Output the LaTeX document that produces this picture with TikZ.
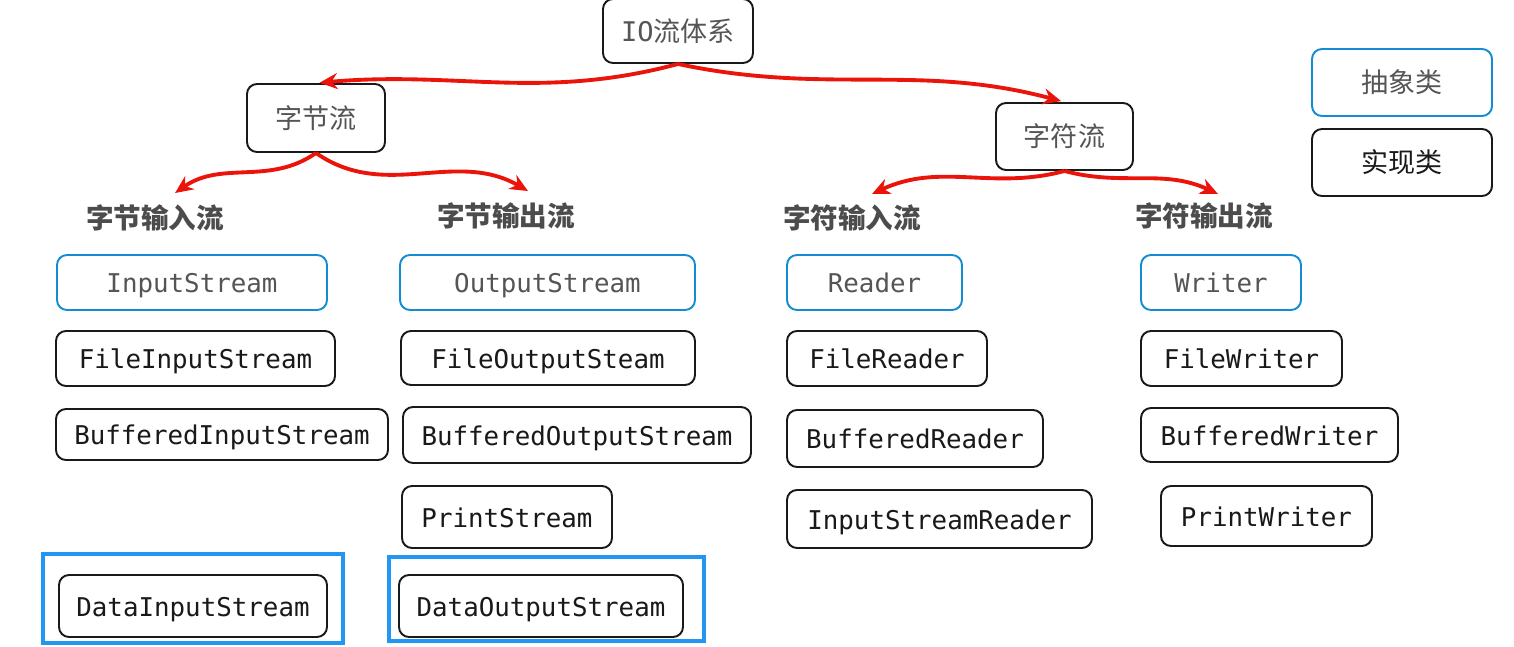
\documentclass[tikz,border=0pt]{standalone}
\usepackage{fontspec}
\setmonofont{DejaVu Sans Mono}
\newfontfamily\cjk{Noto Sans CJK SC}
\usetikzlibrary{arrows.meta}
\definecolor{absblue}{RGB}{18,140,210}
\definecolor{grpblue}{RGB}{33,150,243}
\definecolor{txtgray}{RGB}{85,85,85}
\definecolor{arrred}{RGB}{235,20,10}

\begin{document}
\begin{tikzpicture}[x=0.02cm,y=-0.02cm]
\tikzset{box/.style={draw=black!90, line width=1.1pt, rounded corners=0.2cm, fill=white, inner sep=0pt,
    text height=15pt, text depth=3.5pt, font=\fontsize{14.7}{17}\selectfont\ttfamily},
  sz/.style 2 args={minimum width=#1*0.02cm, minimum height=#2*0.02cm},
  absbox/.style={box, draw=absblue, text=txtgray},
  implbox/.style={box, text=black!90},
  cnbox/.style={box, text=txtgray, text height=, text depth=, font=\fontsize{15.4}{18}\selectfont\cjk},
  grp/.style={draw=grpblue, line width=2.2pt},
  kind/.style={text=black!70, inner sep=2pt, font=\fontsize{15.7}{18}\selectfont\cjk\bfseries},
  link/.style={draw=arrred, line width=2.2pt, -{Stealth[length=0.36cm,width=0.32cm]}}}
\useasboundingbox (0,0) rectangle (1514,646);

% top levels
\node[cnbox, sz={150}{64}] (io) at (678,31) {{\ttfamily IO}流体系};
\node[cnbox, sz={138}{68}] (byte) at (316,118) {字节流};
\node[cnbox, sz={137}{67}] (char) at (1064.5,136.5) {字符流};

% legend
\node[cnbox, draw=absblue, sz={180}{67}] (abs) at (1402,82.5) {抽象类};
\node[cnbox, text=black!90, sz={180}{67}] (impl) at (1402,162.5) {实现类};

% kinds
\node[kind] (bin) at (155,218) {字节输入流};
\node[kind] (bout) at (506,216) {字节输出流};
\node[kind] (cin) at (852,218) {字符输入流};
\node[kind] (cout) at (1204,216) {字符输出流};
\coordinate (binend) at (175,193);
\coordinate (boutend) at (528,191);
\coordinate (cinend) at (872,194);
\coordinate (coutend) at (1218,194);

% byte input
\node[absbox, sz={270}{55}] (is) at (192,282.5) {InputStream};
\node[implbox, sz={279}{55}] (fis) at (195.5,358.5) {FileInputStream};
\node[implbox, sz={332}{51}] (bis) at (222,434.5) {BufferedInputStream};
\node[implbox, sz={268}{62}] (dis) at (193,606) {DataInputStream};
\draw[grp] (43,554) rectangle (343,643);

% byte output
\node[absbox, sz={295}{55}] (os) at (547.5,282.5) {OutputStream};
\node[implbox, sz={294}{54}] (fos) at (548,358) {FileOutputSteam};
\node[implbox, sz={348}{56}] (bos) at (577,435) {BufferedOutputStream};
\node[implbox, sz={210}{62}] (ps) at (507,517) {PrintStream};
\node[implbox, sz={284}{62}] (dos) at (541,606) {DataOutputStream};
\draw[grp] (389,557) rectangle (704,641);

% char input
\node[absbox, sz={175}{55}] (rd) at (874.5,282.5) {Reader};
\node[implbox, sz={200}{55}] (frd) at (887,358.5) {FileReader};
\node[implbox, sz={256}{57}] (brd) at (915,438.5) {BufferedReader};
\node[implbox, sz={305}{58}] (isr) at (939.5,519) {InputStreamReader};

% char output
\node[absbox, sz={160}{55}] (wr) at (1221,282.5) {Writer};
\node[implbox, sz={201}{55}] (fwr) at (1241.5,358.5) {FileWriter};
\node[implbox, sz={257}{54}] (bwr) at (1269.5,435) {BufferedWriter};
\node[implbox, sz={211}{60}] (pwr) at (1266.5,516) {PrintWriter};

% arrows
\draw[link, shorten >=2pt] (io.south) to[out=195,in=5] (byte.north);
\draw[link, shorten >=2pt] (io.south) to[out=-12,in=165] (char.north);
\draw[link] (byte.south) to[out=215,in=35] (binend);
\draw[link] (byte.south) to[out=-35,in=150] (boutend);
\draw[link] (char.south) to[out=195,in=25] (cinend);
\draw[link] (char.south) to[out=-15,in=155] (coutend);
\end{tikzpicture}
\end{document}
